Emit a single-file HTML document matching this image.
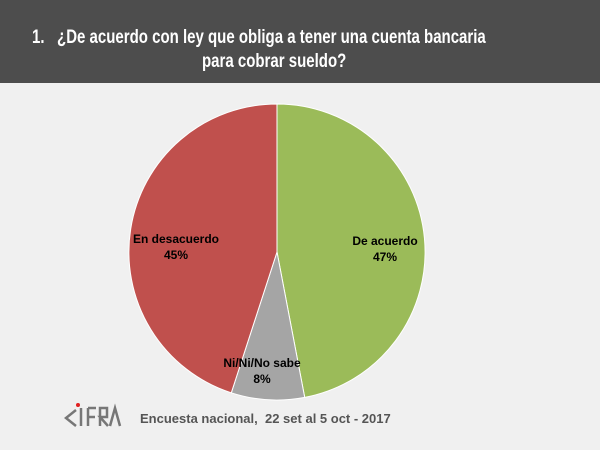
<!DOCTYPE html>
<html><head><meta charset="utf-8"><style>
body{margin:0;width:600px;height:450px;background:#f0f0f0;font-family:"Liberation Sans",sans-serif;overflow:hidden;position:relative}
.h{position:absolute;left:0;top:0;width:600px;height:83px;background:#4d4d4d}
.t{position:absolute;color:#fff;font-weight:bold;font-size:19px;white-space:nowrap;transform:scaleX(0.79);transform-origin:0 0}
.l{position:absolute;font-weight:bold;font-size:12px;color:#000;text-align:center;line-height:16px}
</style></head><body>
<div class="h"></div>
<div class="t" style="left:32px;top:27px">1.&nbsp;&nbsp; ¿De acuerdo con ley que obliga a tener una cuenta bancaria</div>
<div class="t" style="left:202px;top:51px">para cobrar sueldo?</div>
<svg width="600" height="450" style="position:absolute;left:0;top:0">
<path d="M277,252 L277,104 A148,148 0 0 1 304.7,397.4 Z" fill="#9bbb59" stroke="#fff" stroke-width="1"/>
<path d="M277,252 L304.7,397.4 A148,148 0 0 1 231.3,392.8 Z" fill="#a5a5a5" stroke="#fff" stroke-width="1"/>
<path d="M277,252 L231.3,392.8 A148,148 0 0 1 277,104 Z" fill="#c0504d" stroke="#fff" stroke-width="1"/>
<g fill="none" stroke="#777" stroke-width="2.5"><path d="M76,410 L66,418 L76,426"/><path d="M81,408 V426 M88,408 V426 M88,408 H96 M88,417 H95 M100,426 V408 H107 L107,417 H100 L108,426 M110,426 L115,408 L120,426"/></g>
<circle cx="78" cy="405" r="2" fill="#e02020"/>
</svg>
<div class="l" style="left:340px;top:233px;width:90px">De acuerdo<br>47%</div>
<div class="l" style="left:116px;top:231px;width:120px">En desacuerdo<br>45%</div>
<div class="l" style="left:202px;top:355px;width:120px">Ni/Ni/No sabe<br>8%</div>
<div style="position:absolute;left:140px;top:411px;font-size:13px;font-weight:bold;color:#555">Encuesta nacional,&nbsp; 22 set al 5 oct - 2017</div>
</body></html>
